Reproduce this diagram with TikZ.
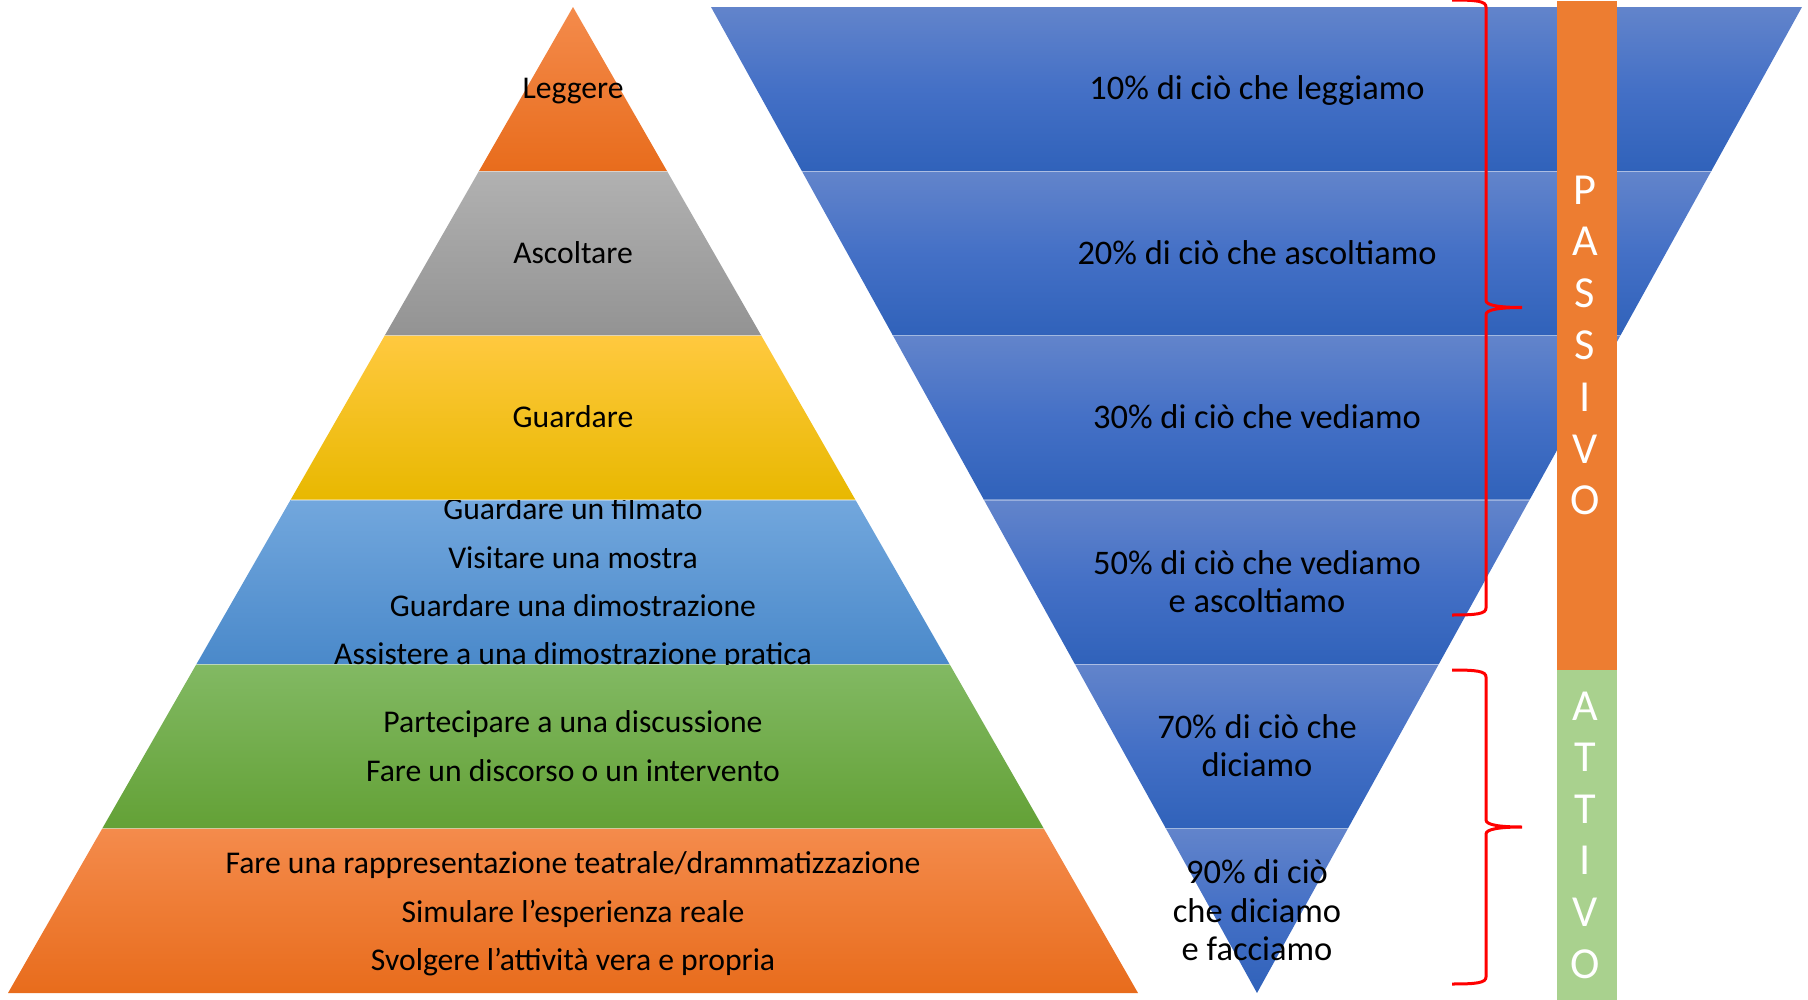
\documentclass[tikz,border=0pt]{standalone}
\usepackage{fontspec}
\setmainfont{Carlito}
\usetikzlibrary{calc,positioning}

\definecolor{orTop}{HTML}{F48B4C}
\definecolor{orBot}{HTML}{E86C1C}
\definecolor{grTop}{HTML}{B1B1B1}
\definecolor{grBot}{HTML}{939393}
\definecolor{goTop}{HTML}{FFC93F}
\definecolor{goBot}{HTML}{E8B800}
\definecolor{blTop}{HTML}{72A7DD}
\definecolor{blBot}{HTML}{4A89CA}
\definecolor{gnTop}{HTML}{82B963}
\definecolor{gnBot}{HTML}{63A136}
\definecolor{fnTop}{HTML}{6284CB}
\definecolor{fnMid}{HTML}{4470C6}
\definecolor{fnBot}{HTML}{3062BA}
\definecolor{barOrange}{HTML}{ED7D31}
\definecolor{barGreen}{HTML}{A9D18E}

\begin{document}
\begin{tikzpicture}[x=0.01cm,
            y=-0.01cm,
            lbl/.style={anchor=base, inner sep=0pt, font=\fontsize{9}{11}\selectfont},
            pct/.style={anchor=base, inner sep=0pt, font=\fontsize{9.8}{11}\selectfont},
            bar/.style={anchor=base, inner sep=0pt, text=white, font=\fontsize{12.6}{14}\selectfont},
            sep/.style={white, opacity=0.35, line width=0.012cm},
            red brace/.style={red, line width=0.03cm, to path={
                (\tikztostart) .. controls +(24,0) and +(0,-6) .. ++(34,7)
                -- ($(\tikztostart)!0.5!(\tikztotarget)+(34,-7)$)
                .. controls +(0,5) and +(-22,0) .. ++(36,7)
                .. controls +(-22,0) and +(0,-5) .. ++(-36,7)
                -- ($(\tikztotarget)+(34,-7)$)
                .. controls +(0,6) and +(24,0) .. (\tikztotarget)}}]

        \useasboundingbox (0,0) rectangle (1808,1000);

        % pyramid
        \coordinate (apex) at (573,7);
        \coordinate (pl)   at (8,993);
        \coordinate (pr)   at (1138,993);
        \foreach \k/\ct/\cb in {0/orTop/orBot,1/grTop/grBot,2/goTop/goBot,3/blTop/blBot,4/gnTop/gnBot,5/orTop/orBot}
            \shade[top color=\ct, bottom color=\cb]
                ($(apex)!{\k/6}!(pl)$) -- ($(apex)!{\k/6}!(pr)$) --
                ($(apex)!{(\k+1)/6}!(pr)$) -- ($(apex)!{(\k+1)/6}!(pl)$) -- cycle;
        \foreach \k in {1,...,5}
            \draw[sep] ($(apex)!{\k/6}!(pl)$) -- ($(apex)!{\k/6}!(pr)$);

        % funnel
        \coordinate (fl)  at (711,7);
        \coordinate (fr)  at (1802,7);
        \coordinate (tip) at (1257,993);
        \foreach \k in {0,...,5}
            \shade[top color=fnTop, bottom color=fnBot, middle color=fnMid]
                ($(fl)!{\k/6}!(tip)$) -- ($(fr)!{\k/6}!(tip)$) --
                ($(fr)!{(\k+1)/6}!(tip)$) -- ($(fl)!{(\k+1)/6}!(tip)$) -- cycle;
        \foreach \k in {1,...,5}
            \draw[sep] ($(fl)!{\k/6}!(tip)$) -- ($(fr)!{\k/6}!(tip)$);

        % side bar
        \fill[barOrange] (1557,1) rectangle (1617,670);
        \fill[barGreen]  (1557,670) rectangle (1617,1000);

        % braces
        \coordinate (pas top) at (1452,0);
        \coordinate (pas bot) at (1452,615);
        \coordinate (att top) at (1452,670);
        \coordinate (att bot) at (1452,984);
        \draw[red brace] (pas top) to (pas bot);
        \draw[red brace] (att top) to (att bot);

        % pyramid labels
        \node[lbl] (leggere)   at (573,98)  {Leggere};
        \node[lbl] (ascoltare) at (573,263) {Ascoltare};
        \node[lbl] (guardare)  at (573,427) {Guardare};
        \begin{scope}
            \clip (0,500) rectangle (1808,664);
            \node[lbl] (vis1) at (573,519) {Guardare un filmato};
            \node[lbl] (vis2) at (573,568) {Visitare una mostra};
            \node[lbl] (vis3) at (573,616) {Guardare una dimostrazione};
            \node[lbl] (vis4) at (573,664) {Assistere a una dimostrazione pratica};
        \end{scope}
        \node[lbl] (part1) at (573,732) {Partecipare a una discussione};
        \node[lbl] (part2) at (573,781) {Fare un discorso o un intervento};
        \node[lbl] (fare1) at (573,873) {Fare una rappresentazione teatrale/drammatizzazione};
        \node[lbl] (fare2) at (573,922) {Simulare l’esperienza reale};
        \node[lbl] (fare3) at (573,970) {Svolgere l’attività vera e propria};

        % funnel labels
        \node[pct] (p10)  at (1257,99)  {10\% di ciò che leggiamo};
        \node[pct] (p20)  at (1257,264) {20\% di ciò che ascoltiamo};
        \node[pct] (p30)  at (1257,428) {30\% di ciò che vediamo};
        \node[pct] (p50a) at (1257,574) {50\% di ciò che vediamo};
        \node[pct] (p50b) at (1257,612) {e ascoltiamo};
        \node[pct] (p70a) at (1257,738) {70\% di ciò che};
        \node[pct] (p70b) at (1257,776) {diciamo};
        \node[pct] (p90a) at (1257,883) {90\% di ciò};
        \node[pct] (p90b) at (1257,922) {che diciamo};
        \node[pct] (p90c) at (1257,960) {e facciamo};

        % bar letters
        \foreach \c [count=\i] in {P,A,S,S,I,V,O}
            \node[bar] (pas\i) at (1585,{204+51.8*(\i-1)}) {\c};
        \foreach \c [count=\i] in {A,T,T,I,V,O}
            \node[bar] (att\i) at (1585,{720+51.6*(\i-1)}) {\c};

    \end{tikzpicture}
\end{document}
